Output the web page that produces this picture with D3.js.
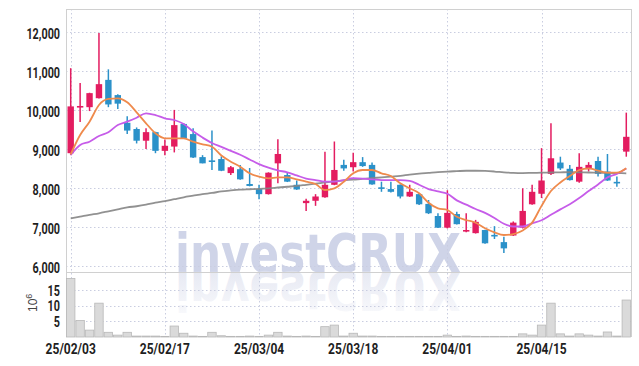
<!DOCTYPE html>
<html><head><meta charset="utf-8">
<script src="https://cdn.jsdelivr.net/npm/d3@7/dist/d3.min.js"></script>
<style>html,body{margin:0;padding:0;background:#fff;}svg{display:block;}</style>
</head><body><svg id="c" width="639" height="366"></svg>
<script>
const dates = ["2025-02-03","2025-02-04","2025-02-05","2025-02-06","2025-02-07","2025-02-10","2025-02-11","2025-02-12","2025-02-13","2025-02-14",
"2025-02-17","2025-02-18","2025-02-19","2025-02-20","2025-02-21","2025-02-24","2025-02-25","2025-02-26","2025-02-27","2025-02-28",
"2025-03-04","2025-03-05","2025-03-06","2025-03-07","2025-03-10","2025-03-11","2025-03-12","2025-03-13","2025-03-14","2025-03-17",
"2025-03-18","2025-03-19","2025-03-20","2025-03-21","2025-03-24","2025-03-25","2025-03-26","2025-03-27","2025-03-28","2025-03-31",
"2025-04-01","2025-04-02","2025-04-03","2025-04-04","2025-04-07","2025-04-08","2025-04-09","2025-04-10","2025-04-11","2025-04-14",
"2025-04-15","2025-04-16","2025-04-17","2025-04-18","2025-04-21","2025-04-22","2025-04-23","2025-04-24","2025-04-25","2025-04-28"];
const open  = [8900,10080,10080,10310,10780,10390,9680,9520,9220,9440, 8960,9070,9650,9390,8800,8700,8750,8390,8490,8110,
               7980,7850,8640,8340,8090,7620,7680,7770,8090,8600, 8540,8670,8600,8010,7980,8090,7790,7850,7600,7290,
               6990,7340,6890,6850,6930,6790,6620,6790,6990,7590, 7860,8370,8660,8500,8170,8490,8700,8430,8150,8940];
const high  = [11080,10700,10450,11980,11050,10410,9850,9560,9540,9450, 9250,10010,9670,9540,8850,9480,8820,8570,8600,8520,
               8090,8410,9260,8400,8200,7730,7850,8940,9200,8730, 8910,8800,8660,8170,8170,8100,8090,7870,7700,7360,
               7950,7400,7360,7190,6940,7030,6760,7150,8000,8090, 9030,9670,8810,8600,8900,8670,8810,8880,8300,9940];
const low   = [8850,9700,9980,10300,10080,10030,9390,9150,9010,8900, 8850,8920,9270,8780,8640,8470,8440,8340,8220,8050,
               7720,7840,8130,8160,7960,7420,7550,7760,8080,8450, 8430,8550,8090,7910,7890,7740,7780,7570,7340,6980,
               6970,7070,6870,6840,6580,6700,6340,6780,6970,7580, 7750,8340,8470,8200,8140,8430,8300,8190,8040,8810];
const close = [10100,10100,10440,10670,10150,10170,9480,9220,9440,8960, 9090,9620,9280,8790,8640,8690,8450,8540,8230,8060,
               7850,8400,8880,8170,7970,7680,7790,8090,8470,8510, 8670,8570,8100,8000,7910,7790,7910,7590,7360,6990,
               7370,7080,6930,7140,6590,6780,6460,7120,7420,7910, 8200,8770,8510,8210,8550,8600,8370,8200,8140,9320];
const volume = [18.7,5.3,2.2,10.8,1.5,0.6,1.5,0.3,0.3,0.3, 0.2,3.5,1.2,0.3,0.2,1.5,0.4,0.2,0.2,0.3,
                0.2,0.6,1.5,0.3,0.2,0.3,0.2,3.3,3.8,0.3, 1.2,0.3,0.3,0.2,0.2,0.2,0.2,0.2,0.2,0.2,
                0.6,0.2,0.3,0.2,0.2,0.2,0.2,0.2,1.0,0.6, 3.8,10.8,1.0,0.3,1.0,0.6,0.3,1.6,0.3,11.8];
const ma5 = [8870,9367,9708,10136,10290,10308,10205,9949,9667,9410, 9282,9282,9282,9195,9128,9067,8840,8682,8554,8385,
             8297,8256,8282,8282,8231,8169,8110,7956,8000,8169, 8385,8469,8469,8385,8315,8128,8000,7872,7631,7487,
             7444,7272,7187,7118,6974,6870,6803,6828,6920,7120, 7550,7930,8150,8315,8469,8513,8451,8400,8400,8513];
const ma10 = [8854,9110,9195,9341,9436,9623,9708,9810,9923,9879, 9795,9751,9649,9460,9300,9160,9060,8960,8860,8740,
              8620,8530,8460,8410,8330,8250,8210,8170,8170,8210, 8260,8250,8230,8210,8210,8210,8190,8090,7980,7920,
              7860,7690,7580,7470,7370,7240,7090,7020,7020,7100, 7180,7320,7460,7590,7750,7930,8100,8280,8370,8510];
const maLong = [7231,7275,7320,7360,7410,7460,7510,7540,7580,7630, 7670,7720,7770,7810,7850,7880,7920,7945,7965,7975,
                7985,8000,8020,8040,8060,8090,8120,8150,8180,8205, 8225,8240,8260,8280,8300,8320,8350,8375,8395,8415,
                8430,8440,8450,8450,8445,8430,8410,8395,8390,8395, 8400,8405,8410,8415,8410,8405,8400,8395,8390,8385];
const priceTicks = [6000,7000,8000,9000,10000,11000,12000];
const volumeTicks = [5,10,15];
const dateTicks = ["2025-02-03","2025-02-17","2025-03-04","2025-03-18","2025-04-01","2025-04-15"];

const svg = d3.select("#c");
const L = 66, R = 631, T = 9, MID = 272, B = 337;
const font = "Roboto,'DejaVu Sans',sans-serif";
const SX = 0.72;

const x = d3.scaleBand().domain(dates).range([L, R]).padding(0);
const bw = x.bandwidth();
const cx = d => x(d) + bw / 2;
const y = d3.scaleLinear().domain([5854, 12597]).range([MID, T]);
const yv = d3.scaleLinear().domain([0, 20.75]).range([B, MID]);

// watermark
const defs = svg.append("defs");
const g1 = defs.append("linearGradient").attr("id","refl").attr("gradientUnits","userSpaceOnUse")
  .attr("x1",0).attr("x2",0).attr("y1",272).attr("y2",228);
g1.append("stop").attr("offset","0").attr("stop-color","#dfe2ef").attr("stop-opacity",0.75);
g1.append("stop").attr("offset","1").attr("stop-color","#dfe2ef").attr("stop-opacity",0.2);
const wmFont = "'DejaVu Sans',sans-serif";
const wm = svg.append("g");
wm.append("text").attr("x",175).attr("y",272).attr("font-family",wmFont).attr("font-style","normal")
  .attr("font-weight","bold").attr("font-size",54).attr("textLength",286).attr("lengthAdjust","spacingAndGlyphs")
  .attr("fill","#cfd4e8").text("investCRUX");
wm.append("text").attr("x",175).attr("y",272).attr("transform","translate(0,544) scale(1,-1)")
  .attr("font-family",wmFont).attr("font-style","normal")
  .attr("font-weight","bold").attr("font-size",54).attr("textLength",286).attr("lengthAdjust","spacingAndGlyphs")
  .attr("fill","url(#refl)").text("investCRUX");

// grid
const grid = svg.append("g").attr("stroke","#c9cde0").attr("stroke-width",1).attr("stroke-dasharray","1.5,2.5");
grid.selectAll(".hp").data(priceTicks).join("line")
  .attr("x1",L).attr("x2",R).attr("y1",d=>Math.round(y(d))+0.5).attr("y2",d=>Math.round(y(d))+0.5);
grid.selectAll(".hv").data(volumeTicks).join("line")
  .attr("x1",L).attr("x2",R).attr("y1",d=>Math.round(yv(d))+0.5).attr("y2",d=>Math.round(yv(d))+0.5);
grid.selectAll(".vx").data(dateTicks).join("line")
  .attr("x1",d=>Math.round(cx(d))+0.5).attr("x2",d=>Math.round(cx(d))+0.5).attr("y1",T).attr("y2",B);

// frame
const fr = svg.append("g").attr("stroke","#d0d0d0").attr("stroke-width",1).attr("fill","none");
fr.append("line").attr("x1",L+0.5).attr("x2",L+0.5).attr("y1",T).attr("y2",B);
fr.append("line").attr("x1",R+0.5).attr("x2",R+0.5).attr("y1",T).attr("y2",B);
fr.append("line").attr("x1",L).attr("x2",R).attr("y1",T+0.5).attr("y2",T+0.5);
fr.append("line").attr("x1",L).attr("x2",R).attr("y1",MID+0.5).attr("y2",MID+0.5);

// volume bars
svg.append("g").selectAll("rect").data(dates).join("rect")
  .attr("x",d=>x(d)+0.5).attr("width",bw-1)
  .attr("y",(d,i)=>yv(volume[i])).attr("height",(d,i)=>Math.max(0.5,B-yv(volume[i])))
  .attr("fill","#dadada").attr("stroke","#b8b8b8").attr("stroke-width",0.8);

// candles
const up = "#e31c60", dn = "#2b91c9";
const cg = svg.append("g");
const candles = cg.selectAll("g").data(dates).join("g");
candles.append("line")
  .attr("x1",d=>cx(d)).attr("x2",d=>cx(d))
  .attr("y1",(d,i)=>y(high[i])).attr("y2",(d,i)=>y(low[i]))
  .attr("stroke",(d,i)=>close[i]>=open[i]?up:dn).attr("stroke-width",1.5);
const bodyW = 6.4;
candles.append("rect")
  .attr("x",d=>cx(d)-bodyW/2).attr("width",bodyW)
  .attr("y",(d,i)=>{const a=y(Math.max(open[i],close[i])), b=y(Math.min(open[i],close[i])); return (b-a)<1.6 ? (a+b)/2-0.8 : a;})
  .attr("height",(d,i)=>Math.max(1.6, y(Math.min(open[i],close[i]))-y(Math.max(open[i],close[i]))))
  .attr("fill",(d,i)=>close[i]>=open[i]?up:dn);

// moving averages
const line = arr => d3.line().x((d,i)=>cx(dates[i])).y(d=>y(d)).curve(d3.curveMonotoneX)(arr);
svg.append("path").attr("d",line(maLong)).attr("fill","none").attr("stroke","#858585").attr("stroke-width",1.8).attr("opacity",0.9);
svg.append("path").attr("d",line(ma10)).attr("fill","none").attr("stroke","#c65ce9").attr("stroke-width",1.8);
svg.append("path").attr("d",line(ma5)).attr("fill","none").attr("stroke","#ef8a4c").attr("stroke-width",1.8);

// axis labels
const fmt = d3.format(",");
const lab = (sel) => sel.attr("font-family",font).attr("font-size",15).attr("font-weight",700).attr("fill","#1e1e1e");
lab(svg.append("g").selectAll("text").data(priceTicks).join("text")
  .attr("transform",d=>`translate(60,${y(d)+6.5}) scale(${SX},1)`).attr("text-anchor","end").text(d=>fmt(d)));
lab(svg.append("g").selectAll("text").data(volumeTicks).join("text")
  .attr("transform",d=>`translate(60,${yv(d)+5.5}) scale(${SX},1)`).attr("text-anchor","end").text(d=>d));
const tf = d3.timeFormat("%y/%m/%d"), tp = d3.timeParse("%Y-%m-%d");
lab(svg.append("g").selectAll("text").data(dateTicks).join("text")
  .attr("transform",d=>`translate(${cx(d)},354) scale(0.8,1)`).attr("text-anchor","middle").text(d=>tf(tp(d))));
const vl = svg.append("text").attr("transform","translate(37,312) rotate(-90)")
  .attr("font-family","'Liberation Sans',sans-serif").attr("font-size",12).attr("fill","#444");
vl.append("tspan").text("10");
vl.append("tspan").attr("dy",-5).attr("font-size",9).text("6");
</script></body></html>
